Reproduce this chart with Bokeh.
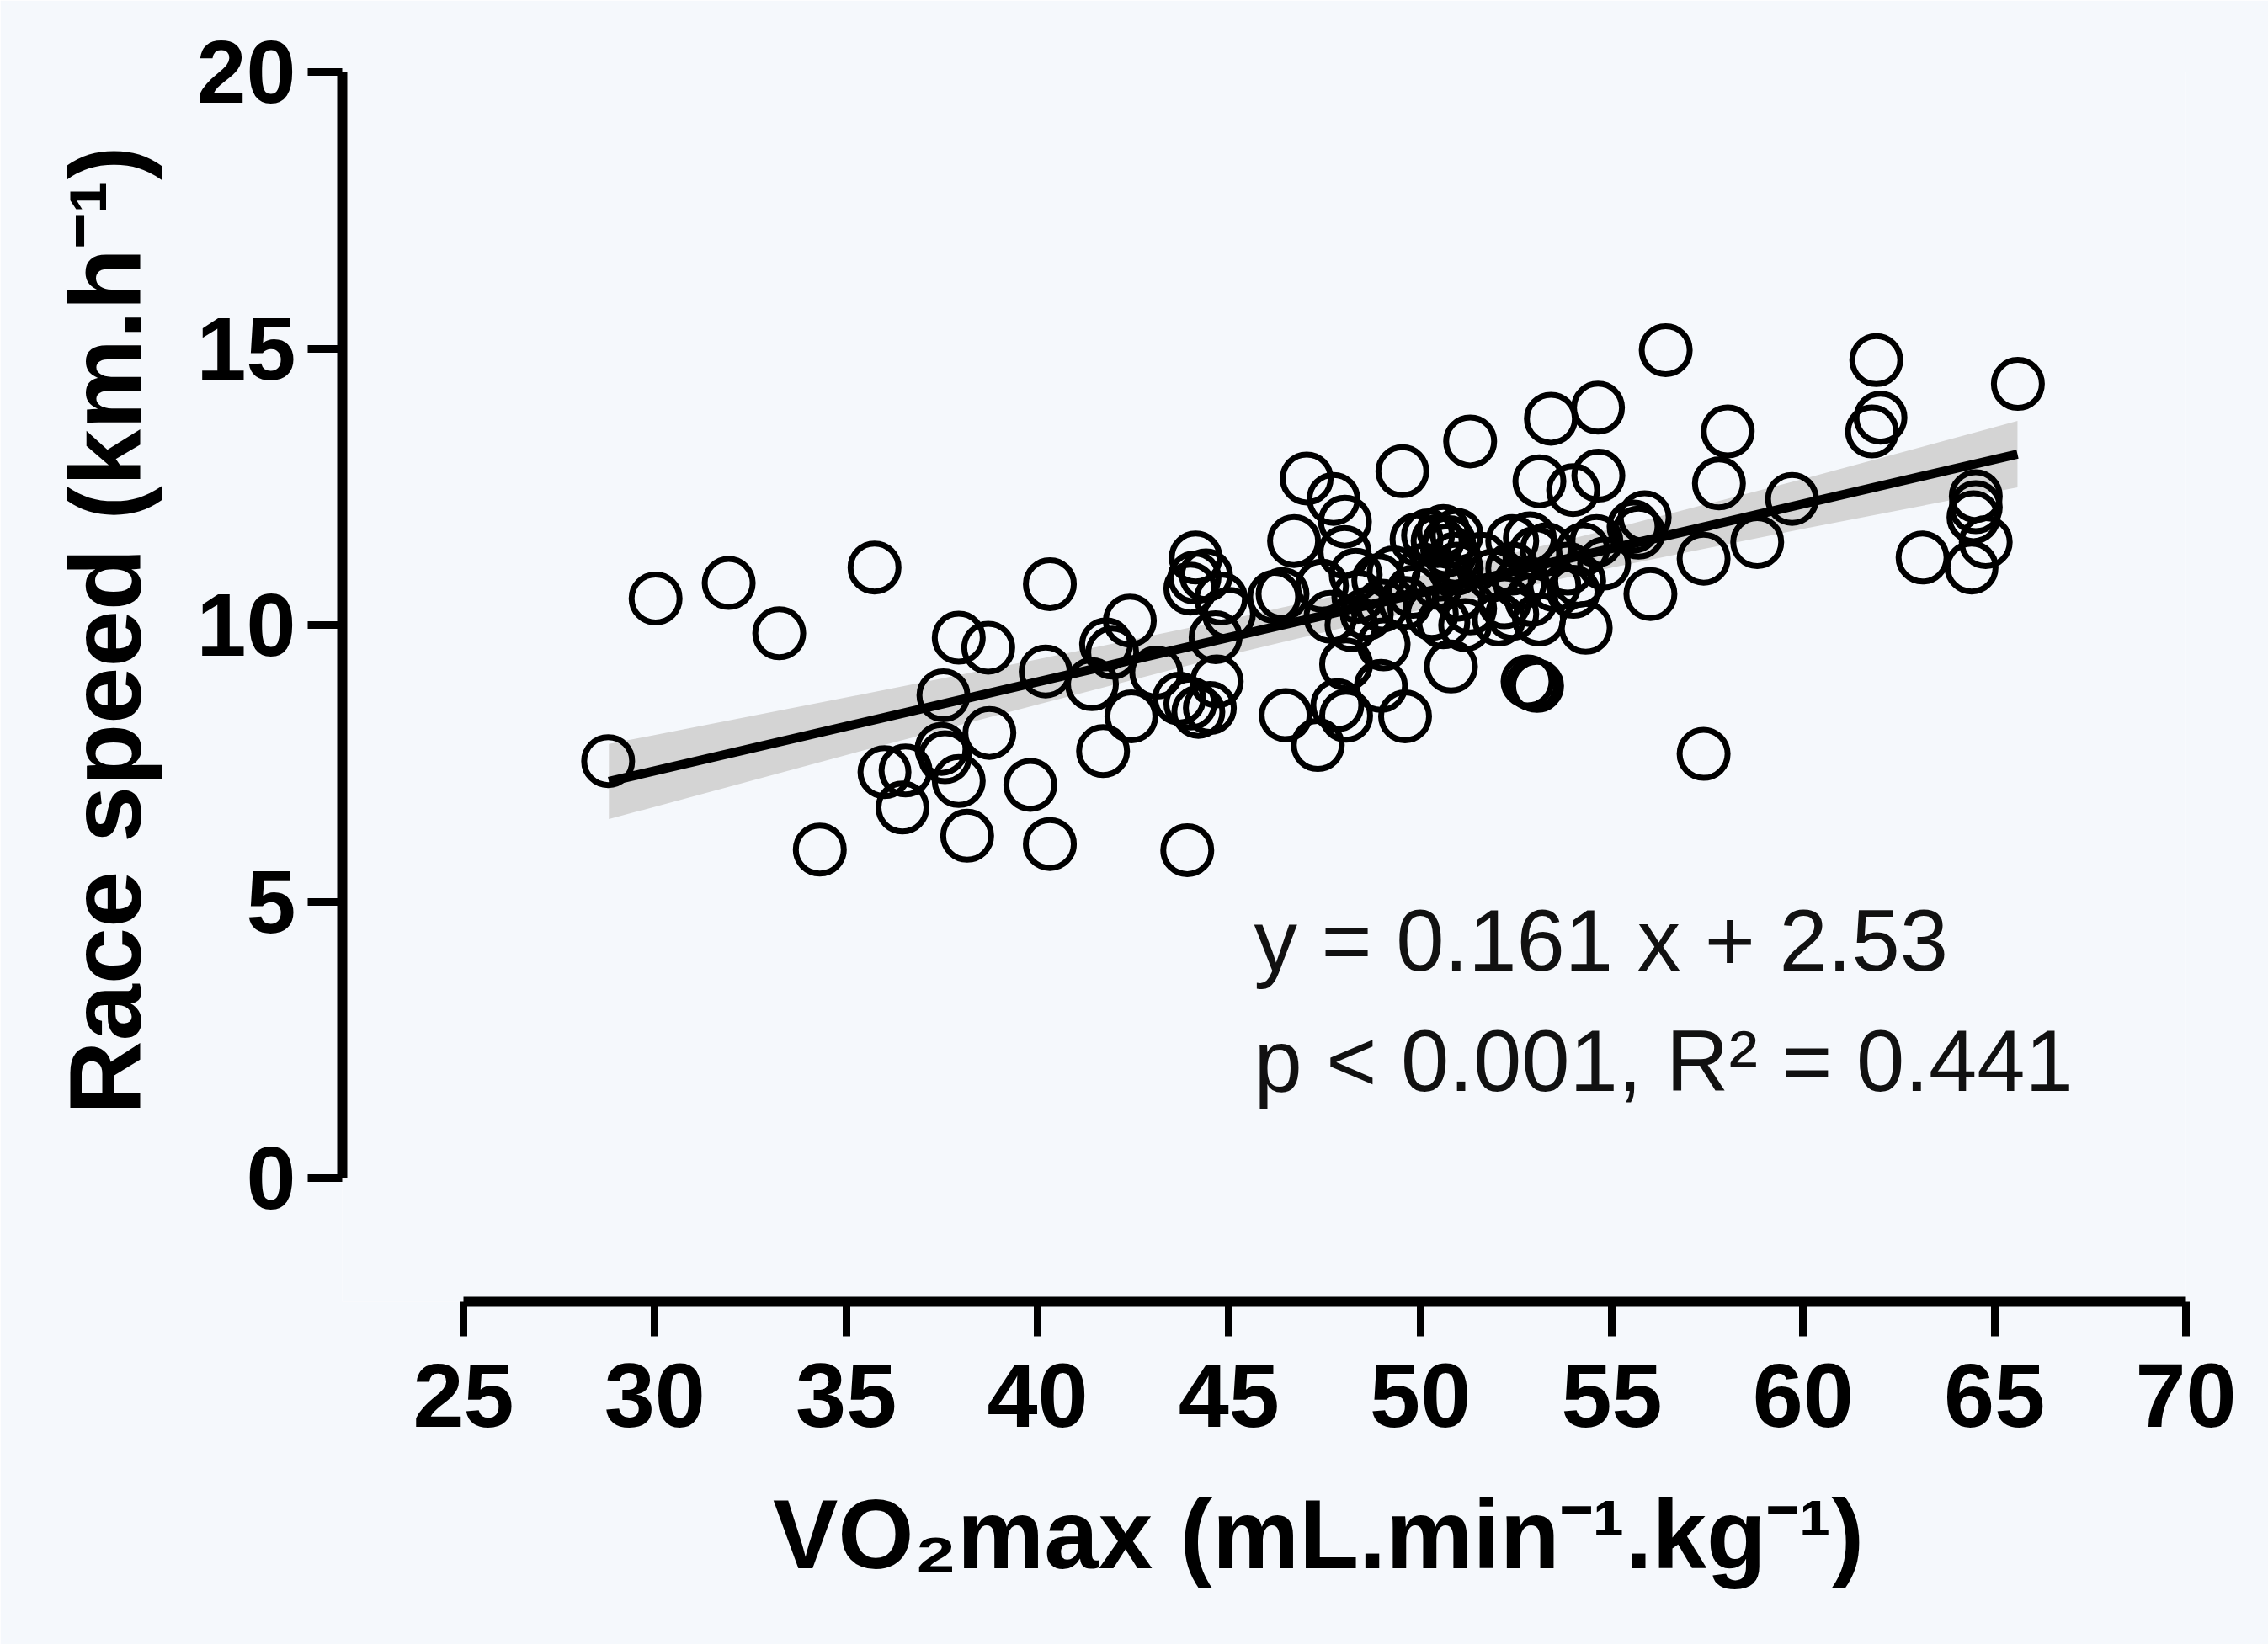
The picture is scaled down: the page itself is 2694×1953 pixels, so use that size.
from bokeh.plotting import figure
from bokeh.models import FixedTicker, Label, ColumnDataSource
from bokeh.embed import file_html
from bokeh.resources import INLINE

# ---- data ----
vo2max = [
    28.78, 30.02, 31.93, 33.25, 34.31, 35.74, 36.00, 36.55, 36.47, 37.94,
    38.71, 37.54, 37.49, 37.58, 38.74, 37.94, 38.16, 39.81, 40.32, 40.32,
    40.21, 42.41, 41.79, 41.95, 41.42, 42.45, 41.71, 43.10, 44.13, 44.10,
    43.99, 44.79, 44.65, 44.68, 44.20, 43.99, 44.50, 43.70, 43.91, 46.18,
    46.40, 46.70, 47.03, 47.73, 48.03, 46.48, 47.32, 47.43, 48.31, 48.90,
    47.65, 48.38, 48.60, 48.02, 48.06, 49.04, 48.97, 47.83, 48.06, 49.60,
    49.53, 50.80, 50.45, 50.60, 50.75, 50.45, 50.30, 50.60, 51.30, 49.30,
    49.80, 50.10, 49.60, 50.90, 50.95, 52.40, 52.86, 53.30, 54.25, 54.60,
    52.40, 53.85, 54.15, 54.80, 52.20, 52.40, 53.10, 52.05, 54.00, 53.50,
    51.30, 50.95, 51.17, 52.93, 52.80, 53.05, 54.32, 53.11, 53.99, 54.65,
    53.41, 54.64, 55.57, 55.70, 55.86, 56.01, 56.41, 57.40, 57.80, 58.03,
    58.80, 59.71, 57.40, 61.91, 62.02, 61.80, 63.12, 64.51, 64.51, 64.45,
    64.77, 64.40, 65.61, 49.90, 50.20, 50.70, 51.60, 51.90, 52.60, 53.00,
    49.00, 48.20, 51.00, 52.90, 45.00, 44.40,
]
race_speed = [
    7.54, 10.48, 10.76, 9.85, 5.94, 11.04, 7.34, 7.37, 6.70, 9.77,
    9.59, 8.73, 7.76, 7.61, 8.05, 7.18, 6.19, 7.11, 6.04, 10.74,
    9.16, 10.08, 9.65, 9.50, 8.93, 8.35, 7.72, 9.14, 11.22, 10.86,
    10.66, 10.48, 9.78, 8.98, 8.43, 8.58, 8.50, 8.67, 5.93, 10.51,
    10.56, 11.52, 12.65, 12.28, 11.87, 8.37, 7.83, 10.71, 10.91, 10.81,
    10.15, 10.51, 10.20, 11.32, 9.29, 9.65, 8.90, 8.55, 8.36, 8.35,
    12.78, 9.25, 11.52, 11.70, 11.50, 10.76, 10.20, 10.05, 13.32, 10.95,
    10.60, 11.00, 10.40, 11.20, 11.63, 11.52, 11.57, 11.37, 11.37, 11.52,
    11.02, 11.02, 10.80, 11.11, 10.41, 10.20, 10.10, 10.10, 10.60, 10.72,
    10.30, 11.02, 10.00, 8.93, 8.98, 8.90, 9.95, 12.60, 12.44, 12.70,
    13.73, 13.93, 11.78, 11.67, 11.95, 10.56, 14.97, 11.20, 12.56, 13.50,
    11.50, 12.28, 7.67, 14.79, 13.75, 13.50, 11.22, 12.33, 12.13, 11.95,
    11.50, 11.04, 14.36, 11.55, 11.62, 11.35, 11.20, 10.90, 10.75, 11.30,
    10.35, 10.00, 10.55, 10.45, 10.20, 10.90,
]
fit_x = [28.8, 65.6]
fit_y = [7.17, 13.09]
band_x = [28.8, 35.0, 40.0, 45.0, 49.0, 55.0, 60.0, 65.6]
band_lo = [6.49, 7.65, 8.56, 9.46, 10.12, 11.04, 11.74, 12.49]
band_hi = [7.85, 8.69, 9.38, 10.10, 10.72, 11.74, 12.64, 13.69]
x_ticks = [25, 30, 35, 40, 45, 50, 55, 60, 65, 70]
y_ticks = [0, 5, 10, 15, 20]
eq_text = "y = 0.161 x + 2.53"
stat_text = "p < 0.001, R\u00b2 = 0.441"
x_title = "VO\u2082max (mL.min\u207b\u00b9.kg\u207b\u00b9)"
y_title = "Race speed (km.h\u207b\u00b9)"

FONT = "Liberation Sans"
BG = "#f5f8fc"
PAD = "\u00a0" * 4  # shifts the centred axis titles towards their place in the reference

p = figure(
    width=2694, height=1953,
    x_range=(21.833, 70.0), y_range=(-2.237, 20.0),
    output_backend="svg", toolbar_location=None,
    min_border_left=406, min_border_right=98,
    min_border_top=85, min_border_bottom=407,
    background_fill_color=BG, border_fill_color=BG,
    outline_line_color=None,
)
p.xgrid.grid_line_color = None
p.ygrid.grid_line_color = None

for ax in (p.xaxis[0], p.yaxis[0]):
    ax.axis_line_width = 12
    ax.axis_line_color = "black"
    ax.major_tick_line_width = 9
    ax.major_tick_line_color = "black"
    ax.major_tick_in = 0
    ax.major_tick_out = 41
    ax.minor_tick_in = 0
    ax.minor_tick_out = 0
    ax.major_label_text_font = FONT
    ax.major_label_text_font_style = "bold"
    ax.major_label_text_color = "black"
    ax.axis_label_text_font = FONT
    ax.axis_label_text_font_style = "bold"
    ax.axis_label_text_color = "black"

xa = p.xaxis[0]
ya = p.yaxis[0]
xa.major_label_text_font_size = "108px"
ya.major_label_text_font_size = "106px"
xa.major_label_standoff = 32
ya.major_label_standoff = 14
xa.ticker = FixedTicker(ticks=x_ticks, minor_ticks=[])
ya.ticker = FixedTicker(ticks=y_ticks, minor_ticks=[])
xa.bounds = (x_ticks[0], x_ticks[-1])
ya.bounds = (y_ticks[0], y_ticks[-1])

xa.axis_label = PAD + x_title
xa.axis_label_text_font_size = "116px"
xa.axis_label_standoff = 60
ya.axis_label = PAD + y_title
ya.axis_label_text_font_size = "121px"
ya.axis_label_standoff = 38

# confidence band, fit line, points
p.varea(x=band_x, y1=band_lo, y2=band_hi, fill_color="#d4d4d4", fill_alpha=1.0)
p.line(x=fit_x, y=fit_y, line_color="black", line_width=11)
src = ColumnDataSource(data=dict(x=vo2max, y=race_speed))
p.scatter(x="x", y="y", source=src, marker="circle", size=57,
          fill_alpha=0, fill_color="white", line_color="black", line_width=7)

# annotation texts
p.add_layout(Label(x=45.65, y=4.30, text=eq_text, text_font=FONT,
                   text_font_size="103px", text_color="#111111",
                   text_baseline="alphabetic", text_align="left"))
p.add_layout(Label(x=45.65, y=2.11, text=stat_text, text_font=FONT,
                   text_font_size="103px", text_color="#111111",
                   text_baseline="alphabetic", text_align="left"))

open("out.html", "w").write(file_html(p, INLINE))
